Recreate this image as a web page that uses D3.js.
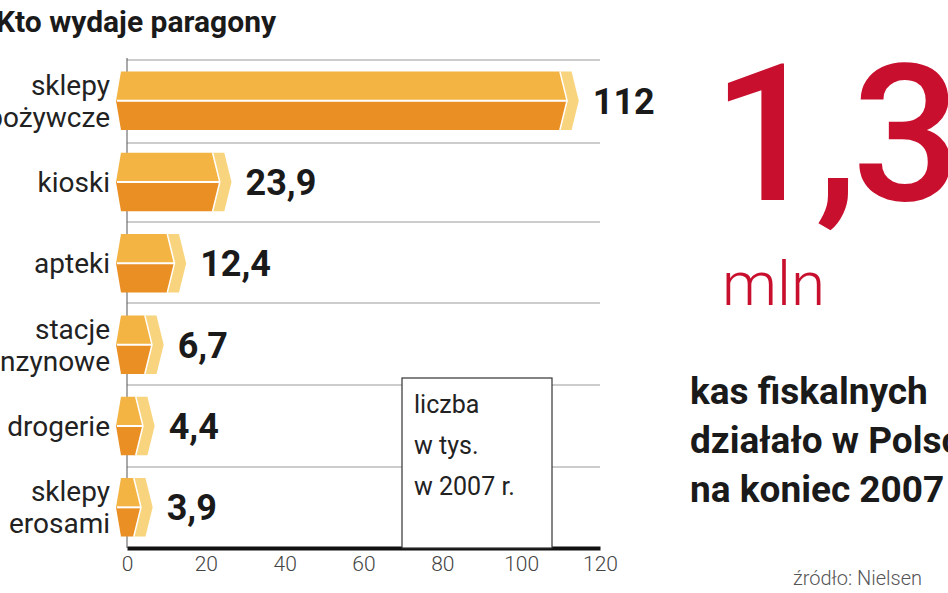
<!DOCTYPE html>
<html><head><meta charset="utf-8">
<script src="https://cdn.jsdelivr.net/npm/d3@7"></script>
<style>body{margin:0;background:#fff}svg{display:block}</style>
</head><body>
<script>
const categories = [['sklepy', 'spożywcze'], ['kioski'], ['apteki'], ['stacje', 'benzynowe'], ['drogerie'], ['sklepy', 'erosami']]
const values = [112, 23.9, 12.4, 6.7, 4.4, 3.9]
const valueLabels = ['112', '23,9', '12,4', '6,7', '4,4', '3,9']
const ticks = [0, 20, 40, 60, 80, 100, 120]

const svg = d3.select('body').append('svg').attr('width', 948).attr('height', 593)
const font = 'Roboto, sans-serif'

const x = d3.scaleLinear().domain([0, 120]).range([127, 600])
const y = d3.scaleBand().domain(d3.range(values.length)).range([60, 548]).paddingInner(0.28).paddingOuter(0.14)

// gridlines between bars
const gridY = [60, 143, 222, 303, 385, 467]
svg.selectAll('.grid').data(gridY).join('line')
    .attr('x1', x(0)).attr('x2', x(120)).attr('y1', d => d).attr('y2', d => d)
    .attr('stroke', '#999').attr('stroke-width', 1)
svg.append('line').attr('x1', x(0)).attr('x2', x(0)).attr('y1', 58).attr('y2', 548).attr('stroke', '#555')

// bottom axis
const axis = svg.append('g').attr('transform', 'translate(0,548)')
    .call(d3.axisBottom(x).tickValues(ticks).tickSize(0).tickPadding(8))
axis.select('.domain').attr('stroke', '#111').attr('stroke-width', 4)
axis.selectAll('text').attr('font-family', font).attr('font-size', 21).attr('font-weight', 300).attr('fill', '#444')

// legend box
svg.append('rect').attr('x', 402).attr('y', 378).attr('width', 150).attr('height', 170)
    .attr('fill', '#fff').attr('stroke', '#333').attr('stroke-width', 1.2)
svg.append('text').attr('font-family', font).attr('font-size', 25).attr('fill', '#222')
    .selectAll('tspan').data(['liczba', 'w tys.', 'w 2007 r.']).join('tspan')
    .attr('x', 414).attr('y', (d, i) => 413 + i * 41).text(d => d)

// bars: hexagonal prisms, end face centred on the value
const bars = svg.selectAll('.bar').data(values).join('g')
bars.each(function (v, i) {
    const g = d3.select(this)
    const t = y(i), h = y.bandwidth(), m = t + h / 2, b = t + h
    const x0 = x(0) - 6, xv = x(v) + 4
    const c = 18
    const fl = xv - c * 0.7, fr = xv - c * 0.05, fm = xv - c * 0.3
    g.append('path').attr('d', `M${x0 - 5},${m}L${x0},${t}L${fl},${t}L${fm},${m}Z`).attr('fill', '#f3b443')
    g.append('path').attr('d', `M${x0 - 5},${m}L${x0},${b}L${fl},${b}L${fm},${m}Z`).attr('fill', '#e98f24')
    g.append('path').attr('d', `M${fl},${t}L${fr},${t}L${xv + c * 0.35},${m}L${fr},${b}L${fl},${b}L${fm},${m}Z`)
        .attr('fill', '#f8d47e')
    g.append('path').attr('d', `M${fl},${t}L${fm},${m}L${fl},${b}`).attr('fill', 'none').attr('stroke', '#fff').attr('stroke-width', 1.5)
    g.append('line').attr('x1', x0 - 4).attr('x2', fm).attr('y1', m).attr('y2', m).attr('stroke', '#fff').attr('stroke-width', 2)
    g.append('text').attr('x', xv + c * 0.35 + 14).attr('y', m + 13)
        .attr('font-family', font).attr('font-weight', 700).attr('font-size', 36).attr('fill', '#1a1a1a')
        .text(valueLabels[i])
})

// category labels
svg.selectAll('.cat').data(categories).join('text')
    .attr('text-anchor', 'end').attr('font-family', font).attr('font-size', 28).attr('fill', '#222')
    .each(function (lines, i) {
        const m = y(i) + y.bandwidth() / 2
        d3.select(this).selectAll('tspan').data(lines).join('tspan')
            .attr('x', 110).attr('y', (d, j) => m + 10 + (j - (lines.length - 1) / 2) * 32).text(d => d)
    })

// title
svg.append('text').attr('x', -4).attr('y', 32).attr('font-family', font).attr('font-weight', 700)
    .attr('font-size', 30).attr('fill', '#1a1a1a').text('Kto wydaje paragony')

// right panel
svg.append('text').attr('x', 712).attr('y', 200).attr('font-family', font).attr('font-weight', 500).attr('font-size', 192)
    .attr('fill', '#c8102e').attr('letter-spacing', -6).text('1,3')
svg.append('text').attr('x', 722).attr('y', 305).attr('font-family', font).attr('font-weight', 300).attr('font-size', 62)
    .attr('fill', '#c8102e').text('mln')
svg.append('text').attr('font-family', font).attr('font-weight', 700).attr('font-size', 37).attr('fill', '#1a1a1a')
    .selectAll('tspan').data(['kas fiskalnych', 'działało w Polsce', 'na koniec 2007']).join('tspan')
    .attr('x', 690).attr('y', (d, i) => 404 + i * 49).text(d => d)
svg.append('text').attr('x', 793).attr('y', 585).attr('font-family', font).attr('font-weight', 300).attr('font-size', 20)
    .attr('fill', '#555').text('źródło: Nielsen')
</script>
</body></html>
